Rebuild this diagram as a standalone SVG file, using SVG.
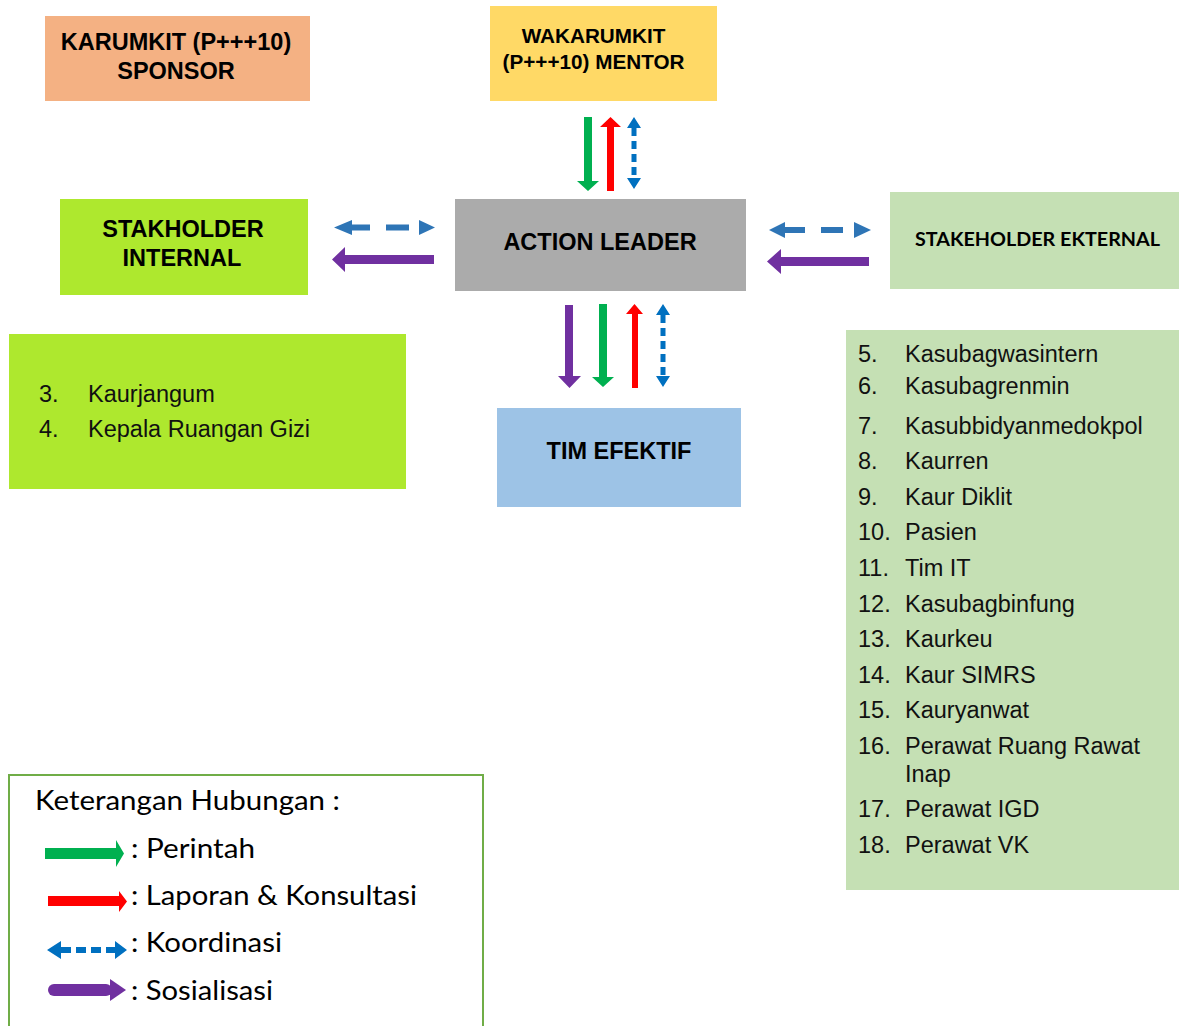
<svg xmlns="http://www.w3.org/2000/svg" width="1185" height="1026" viewBox="0 0 1185 1026">
  <style>
    .title { font-family: "Liberation Sans", Arial, sans-serif; font-weight: bold; font-size: 23.5px; fill: #000; text-anchor: middle; }
    .item { font-family: "Liberation Sans", Arial, sans-serif; font-size: 23.5px; fill: #111; }
    .legend { font-family: Lato, "Open Sans", sans-serif; font-size: 27px; fill: #000; }
    .green { fill: #00B050; }
    .red { fill: #FF0000; }
    .blue { fill: #0070C0; }
    .blue2 { fill: #2E75B6; }
    .purple { fill: #7030A0; }
  </style>
  <rect width="1185" height="1026" fill="#fff"/>

  <g id="sponsor">
    <rect x="45" y="16" width="265" height="85" fill="#F4B183"/>
    <text class="title" x="176" y="50">KARUMKIT (P+++10)</text>
    <text class="title" x="176" y="79">SPONSOR</text>
  </g>

  <g id="mentor">
    <rect x="490" y="6" width="227" height="95" fill="#FFD966"/>
    <text class="title" x="593.5" y="43" style="font-size:20.7px">WAKARUMKIT</text>
    <text class="title" x="593.5" y="69" style="font-size:20.7px">(P+++10) MENTOR</text>
  </g>

  <g id="stakeholder-internal">
    <rect x="60" y="199" width="248" height="96" fill="#AEE82E"/>
    <text class="title" x="183" y="237">STAKHOLDER</text>
    <text class="title" x="182" y="266">INTERNAL</text>
  </g>

  <g id="action-leader">
    <rect x="455" y="199" width="291" height="92" fill="#ABABAB"/>
    <text class="title" x="600" y="250">ACTION LEADER</text>
  </g>

  <g id="stakeholder-eksternal">
    <rect x="890" y="192" width="289" height="97" fill="#C5E0B4"/>
    <text x="915" y="246" textLength="245" lengthAdjust="spacingAndGlyphs" font-family="Lato, 'Open Sans', sans-serif" font-weight="bold" font-size="18.5" fill="#000">STAKEHOLDER EKTERNAL</text>
  </g>

  <g id="tim-efektif">
    <rect x="497" y="408" width="244" height="99" fill="#9DC3E6"/>
    <text class="title" x="619" y="459">TIM EFEKTIF</text>
  </g>

  <g id="internal-list">
    <rect x="9" y="334" width="397" height="155" fill="#AEE82E"/>
    <text class="item" x="39" y="402">3.</text>
    <text class="item" x="88" y="402">Kaurjangum</text>
    <text class="item" x="39" y="437">4.</text>
    <text class="item" x="88" y="437">Kepala Ruangan Gizi</text>
  </g>

  <g id="external-list">
    <rect x="846" y="330" width="333" height="560" fill="#C5E0B4"/>
    <text class="item" x="858" y="362">5.</text><text class="item" x="905" y="362">Kasubagwasintern</text>
    <text class="item" x="858" y="394">6.</text><text class="item" x="905" y="394">Kasubagrenmin</text>
    <text class="item" x="858" y="434">7.</text><text class="item" x="905" y="434">Kasubbidyanmedokpol</text>
    <text class="item" x="858" y="469">8.</text><text class="item" x="905" y="469">Kaurren</text>
    <text class="item" x="858" y="505">9.</text><text class="item" x="905" y="505">Kaur Diklit</text>
    <text class="item" x="858" y="540">10.</text><text class="item" x="905" y="540">Pasien</text>
    <text class="item" x="858" y="576">11.</text><text class="item" x="905" y="576">Tim IT</text>
    <text class="item" x="858" y="612">12.</text><text class="item" x="905" y="612">Kasubagbinfung</text>
    <text class="item" x="858" y="647">13.</text><text class="item" x="905" y="647">Kaurkeu</text>
    <text class="item" x="858" y="683">14.</text><text class="item" x="905" y="683">Kaur SIMRS</text>
    <text class="item" x="858" y="718">15.</text><text class="item" x="905" y="718">Kauryanwat</text>
    <text class="item" x="858" y="754">16.</text><text class="item" x="905" y="754">Perawat Ruang Rawat</text>
    <text class="item" x="905" y="782">Inap</text>
    <text class="item" x="858" y="817">17.</text><text class="item" x="905" y="817">Perawat IGD</text>
    <text class="item" x="858" y="853">18.</text><text class="item" x="905" y="853">Perawat VK</text>
  </g>

  <g id="connectors">
    <!-- mentor <-> action leader -->
    <path class="green" d="M584 117 H592 V181 H599 L588 191 L577 181 H584 Z"/>
    <path class="red" d="M607 191 V127 H600 L610.5 117 L621 127 H614 V191 Z"/>
    <path class="blue" d="M627 128 L634 117 L641 128 Z M627 178 L634 189 L641 178 Z"/>
    <line x1="634" y1="128" x2="634" y2="178" stroke="#0070C0" stroke-width="5" stroke-dasharray="8 5"/>

    <!-- action leader <-> tim efektif -->
    <path class="purple" d="M565 305 V376 H558 L569.5 388 L581 376 H573 V305 Z"/>
    <path class="green" d="M599 304 V377 H592 L603 387 L614 377 H607 V304 Z"/>
    <path class="red" d="M632 388 V314 H626 L634.5 304 L643 314 H638 V388 Z"/>
    <path class="blue" d="M656 315 L663 304 L670 315 Z M656 376 L663 387 L670 376 Z"/>
    <line x1="663" y1="315" x2="663" y2="376" stroke="#0070C0" stroke-width="5" stroke-dasharray="8 5"/>

    <!-- stakeholder internal <-> action leader -->
    <path class="blue2" d="M352 220 L334 227.5 L352 235 Z M419 220 L435 227.5 L419 235 Z"/>
    <line x1="352" y1="227.5" x2="419" y2="227.5" stroke="#2E75B6" stroke-width="6" stroke-dasharray="18 16 23 10"/>
    <path class="purple" d="M434 255 H345 V247 L332 259.5 L345 272 V264 H434 Z"/>

    <!-- action leader <-> stakeholder eksternal -->
    <path class="blue2" d="M785 222 L769 230 L785 238 Z M854 222 L871 230 L854 238 Z"/>
    <line x1="785" y1="230" x2="854" y2="230" stroke="#2E75B6" stroke-width="6" stroke-dasharray="20 16 22 11"/>
    <path class="purple" d="M869 257 H781 V249 L767 261.5 L781 274 V266 H869 Z"/>
  </g>

  <g id="legend">
    <rect x="9" y="775" width="474" height="260" fill="none" stroke="#70AD47" stroke-width="2"/>
    <text class="legend" x="35" y="810" textLength="305" lengthAdjust="spacingAndGlyphs">Keterangan Hubungan :</text>

    <path class="green" d="M45 848 H116 V840 L124 853.5 L116 867 V859 H45 Z"/>
    <text class="legend" x="131" y="858" textLength="124" lengthAdjust="spacingAndGlyphs">: Perintah</text>

    <path class="red" d="M48 896 H119 V891 L127 901.5 L119 912 V906 H48 Z"/>
    <text class="legend" x="131" y="905" textLength="286" lengthAdjust="spacingAndGlyphs">: Laporan &amp; Konsultasi</text>

    <path class="blue" d="M61 941 L47 950 L61 959 Z M115 941 L127 950 L115 959 Z"/>
    <line x1="61" y1="950" x2="115" y2="950" stroke="#0070C0" stroke-width="6" stroke-dasharray="10 5"/>
    <text class="legend" x="131" y="952" textLength="151" lengthAdjust="spacingAndGlyphs">: Koordinasi</text>

    <rect class="purple" x="48" y="984" width="64" height="12" rx="6"/>
    <path class="purple" d="M110 979 L126 990 L110 1001 Z"/>
    <text class="legend" x="131" y="1000" textLength="142" lengthAdjust="spacingAndGlyphs">: Sosialisasi</text>
  </g>
</svg>
